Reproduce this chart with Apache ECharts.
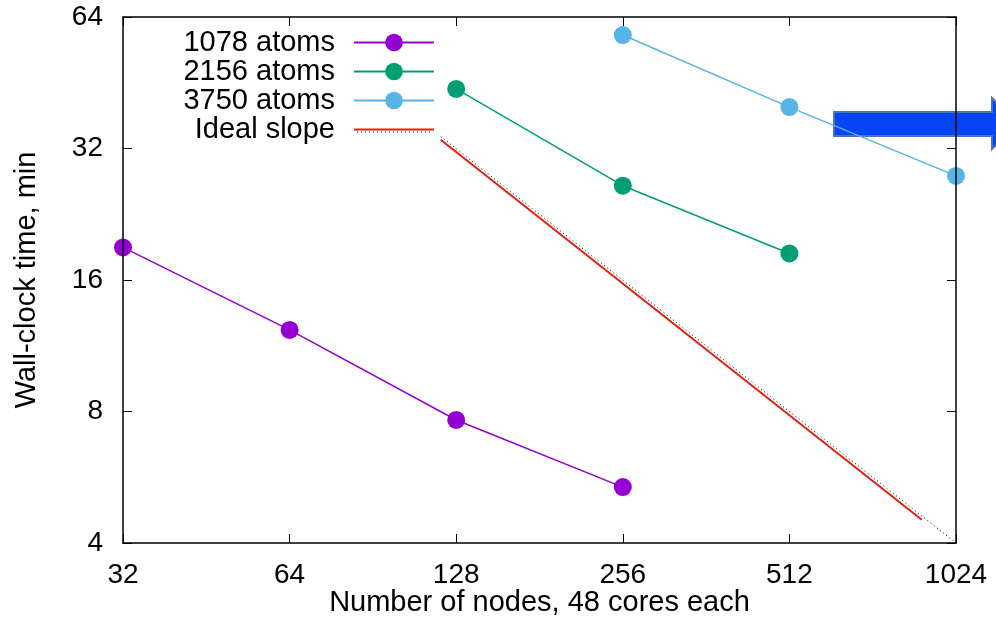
<!DOCTYPE html>
<html lang="en">
<head>
    <meta charset="UTF-8">
    <title>Wall-clock time vs nodes</title>
    <style>
        html, body { margin: 0; padding: 0; background: #fff; }
    </style>
</head>
<body>

<div id="main" style="width:996px; height:631px;"></div>

<script src="https://cdn.jsdelivr.net/npm/echarts@6/dist/echarts.min.js"></script>
<script>
    // data (nodes, minutes)
    var atoms1078 = [[32, 19.0], [64, 12.3], [128, 7.65], [256, 5.37]];
    var atoms2156 = [[128, 43.8], [256, 26.3], [512, 18.4]];
    var atoms3750 = [[256, 58.2], [512, 39.8], [1024, 27.7]];
    var idealSlope = [[120, 33.5], [888, 4.52]];
    var idealRef = [[120, 34.1], [1024, 4]];

    var legendNames = ['1078 atoms', '2156 atoms', '3750 atoms', 'Ideal slope'];

    var FONT = 'Liberation Sans, Arial, Helvetica, sans-serif';
    var FS = 28;   // tick labels
    var FS_T = 29; // titles and key

    var chart = echarts.init(document.getElementById('main'));

    function frameAxis(pos, min, max, showLabel, extra) {
        var ax = {
            type: 'log',
            logBase: 2,
            min: min,
            max: max,
            position: pos,
            z: 10,
            axisLine: { show: true, onZero: false, lineStyle: { color: '#000', width: 1.5 } },
            axisTick: { show: true, inside: true, length: 9, lineStyle: { color: '#000', width: 1 } },
            minorTick: { show: false },
            splitLine: { show: false },
            axisLabel: {
                show: showLabel,
                color: '#000',
                fontFamily: FONT,
                fontSize: FS,
                formatter: function (v) { return String(Math.round(v)); }
            }
        };
        for (var k in extra) ax[k] = extra[k];
        return ax;
    }

    var xBottom = frameAxis('bottom', 32, 1024, true, {
        name: 'Number of nodes, 48 cores each',
        nameLocation: 'middle',
        nameGap: 45,
        nameMoveOverlap: false,
        nameTextStyle: { color: '#000', fontFamily: FONT, fontSize: FS_T }
    });
    xBottom.axisLabel.margin = 18;
    var xTop = frameAxis('top', 32, 1024, false, {});
    var yLeft = frameAxis('left', 4, 64, true, {
        name: 'Wall-clock time, min',
        nameLocation: 'middle',
        nameGap: 82,
        nameTextStyle: { color: '#000', fontFamily: FONT, fontSize: FS_T }
    });
    yLeft.axisLabel.margin = 20;
    var yRight = frameAxis('right', 4, 64, false, {});

    function pointSeries(name, data, color) {
        return {
            name: name,
            type: 'line',
            data: data,
            symbol: 'circle',
            symbolSize: 18,
            showSymbol: true,
            lineStyle: { color: color, width: 1.5 },
            itemStyle: { color: color },
            emphasis: { disabled: true },
            animation: false
        };
    }

    var legendData = legendNames.map(function (n) {
        if (n === 'Ideal slope') return { name: n, itemStyle: { opacity: 0 } };
        return { name: n };
    });

    chart.setOption({
        backgroundColor: '#fff',
        animation: false,
        grid: { left: 123, right: 40, top: 17, bottom: 88, containLabel: false },
        legend: {
            data: legendData,
            orient: 'vertical',
            left: 163,
            top: 28,
            padding: 0,
            itemGap: 0,
            align: 'right',
            itemWidth: 80,
            itemHeight: 22,
            selectedMode: false,
            textStyle: {
                color: '#000',
                fontFamily: FONT,
                fontSize: FS_T,
                lineHeight: 29,
                width: 172,
                align: 'right',
                padding: [0, 14, 0, 0]
            }
        },
        xAxis: [xBottom, xTop],
        yAxis: [yLeft, yRight],
        graphic: [{
            // blue arrow in the upper right corner
            type: 'polygon',
            z: 1,
            shape: {
                points: [[834, 112], [992, 112], [992, 98], [1018, 124], [992, 149], [992, 136], [834, 136]]
            },
            style: { fill: '#0645f5', stroke: '#4a72bd', lineWidth: 2 }
        }, {
            // dotted sample under the ideal slope key
            type: 'line',
            z: 5,
            shape: { x1: 357, y1: 132, x2: 430, y2: 132 },
            style: { stroke: '#000', lineWidth: 1, lineDash: [1, 3] }
        }],
        series: [
            pointSeries('1078 atoms', atoms1078, '#9400d3'),
            pointSeries('2156 atoms', atoms2156, '#009e73'),
            pointSeries('3750 atoms', atoms3750, '#56b4e9'),
            {
                name: 'Ideal slope',
                type: 'line',
                data: idealSlope,
                symbol: 'none',
                lineStyle: { color: '#e51e10', width: 2 },
                itemStyle: { color: '#e51e10' },
                emphasis: { disabled: true }
            },
            {
                name: 'ideal ref',
                type: 'line',
                data: idealRef,
                symbol: 'none',
                lineStyle: { color: '#000', width: 1, type: [1, 3] },
                emphasis: { disabled: true }
            }
        ]
    });
</script>
</body>
</html>
